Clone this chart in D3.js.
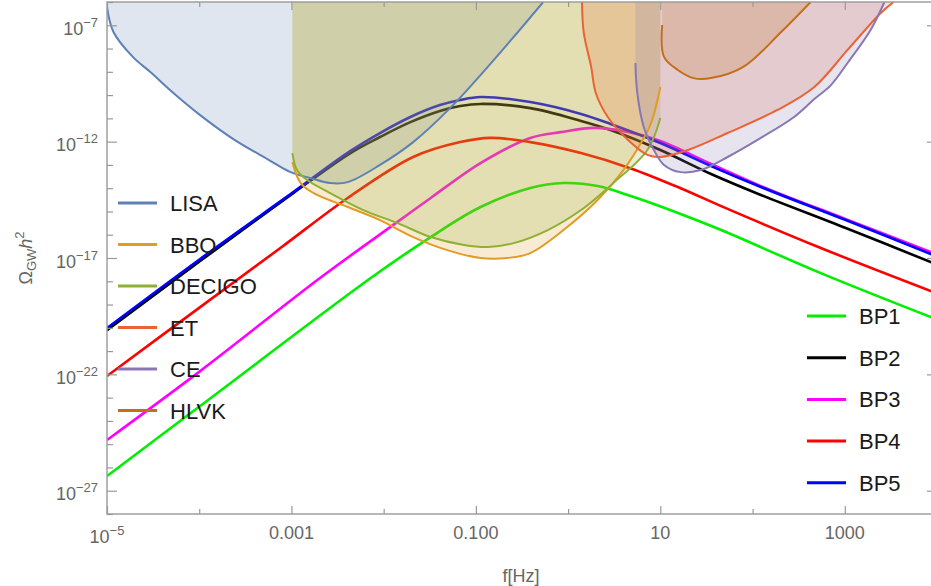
<!DOCTYPE html>
<html>
<head>
<meta charset="utf-8">
<script src="https://cdn.jsdelivr.net/npm/d3@7"></script>
<style>
  body { margin: 0; background: #fff; }
  text { font-family: "Liberation Sans", Arial, sans-serif; }
</style>
</head>
<body>
<svg id="chart" width="931" height="586"></svg>
<script>
// Tick values and labels
const xMajor = [1e-5, 1e-3, 1e-1, 1e1, 1e3];
const xMajorLabels = ['10^\u22125', '0.001', '0.100', '10', '1000'];
const xMinor = [1e-4, 1e-2, 1e0, 1e2, 1e4];
const yMajor = [1e-7, 1e-12, 1e-17, 1e-22, 1e-27];
const yMajorLabels = ['10^\u22127', '10^\u221212', '10^\u221217', '10^\u221222', '10^\u221227'];

// Detector sensitivity curves as [log10 f, log10 Omega h^2]
const lisa = [[-5.00, -6.21], [-4.93, -7.29], [-4.72, -8.36], [-4.53, -9.01], [-4.28, -9.91],
  [-3.99, -10.86], [-3.63, -11.89], [-3.26, -12.75], [-3.01, -13.31], [-2.80, -13.56],
  [-2.58, -13.78], [-2.39, -13.74], [-2.04, -13.00], [-1.68, -12.02], [-1.28, -10.56],
  [-0.95, -9.14], [-0.59, -7.50], [-0.27, -6.00]];
const bbo = [[-2.99, -12.88], [-2.90, -13.78], [-2.76, -14.21], [-2.39, -14.81], [-2.04, -15.37],
  [-1.68, -16.10], [-1.31, -16.66], [-0.95, -17.00], [-0.66, -17.00], [-0.41, -16.79],
  [-0.05, -15.80], [0.32, -14.51], [0.60, -13.22], [0.79, -12.06], [0.90, -11.20], [1.00, -9.65]];
const decigo = [[-2.99, -12.49], [-2.94, -13.22], [-2.83, -13.65], [-2.58, -14.21], [-2.22, -14.94],
  [-1.85, -15.50], [-1.49, -16.10], [-1.13, -16.44], [-0.87, -16.53], [-0.59, -16.36],
  [-0.22, -15.80], [0.14, -14.94], [0.49, -13.78], [0.86, -12.36], [1.00, -10.98]];
const et = [[0.15, -6.00], [0.17, -7.33], [0.25, -8.79], [0.30, -9.91], [0.43, -10.94],
  [0.65, -11.93], [0.86, -12.57], [1.00, -12.66], [1.30, -12.36], [1.73, -11.63],
  [2.27, -10.64], [2.67, -9.65], [3.03, -8.06], [3.39, -6.47], [3.53, -6.00]];
const ce = [[0.73, -8.62], [0.75, -9.91], [0.82, -11.37], [0.93, -12.36], [1.04, -13.00],
  [1.22, -13.31], [1.44, -13.22], [1.73, -12.66], [2.09, -11.84], [2.45, -10.94],
  [2.67, -10.17], [2.85, -9.57], [3.03, -8.62], [3.28, -7.20], [3.43, -6.00]];
const hlvk = [[1.02, -6.99], [1.04, -8.36], [1.19, -8.92], [1.36, -9.27], [1.55, -9.27],
  [1.90, -8.79], [2.31, -7.29], [2.63, -6.00]];

// Benchmark point spectra, same units
const bp1 = [[-5.00, -26.37], [-3.99, -23.36], [-2.14, -17.86], [-1.49, -16.10], [-0.95, -14.81],
  [-0.41, -13.99], [-0.05, -13.78], [0.32, -13.91], [0.68, -14.34], [1.22, -15.11],
  [1.66, -15.80], [2.74, -17.65], [3.96, -19.58]];
const bp2 = [[-5.00, -20.10], [-3.99, -17.13], [-2.98, -14.21], [-2.36, -12.49], [-2.04, -11.80],
  [-1.71, -11.16], [-1.39, -10.68], [-1.17, -10.47], [-0.95, -10.38], [-0.41, -10.56],
  [0.14, -11.11], [0.46, -11.50], [1.00, -12.36], [1.55, -13.39], [2.09, -14.29],
  [3.01, -15.71], [3.96, -17.22]];
const bp3 = [[-5.00, -24.82], [-3.99, -21.86], [-2.69, -17.86], [-1.85, -15.45], [-1.49, -14.42],
  [-0.95, -12.92], [-0.41, -11.84], [-0.08, -11.59], [0.28, -11.41], [0.65, -11.59],
  [1.00, -11.97], [1.55, -12.96], [2.09, -13.91], [3.01, -15.33], [3.96, -16.79]];
const bp4 = [[-5.00, -22.07], [-3.99, -19.11], [-3.12, -16.57], [-2.39, -14.42], [-1.68, -12.66],
  [-1.17, -12.02], [-0.84, -11.84], [-0.41, -12.02], [0.14, -12.49], [0.68, -13.15],
  [1.22, -14.00], [1.66, -14.77], [2.74, -16.57], [3.96, -18.46]];
const bp5 = [[-5.00, -20.01], [-3.99, -17.04], [-2.98, -14.17], [-2.36, -12.40], [-2.04, -11.63],
  [-1.71, -10.94], [-1.39, -10.43], [-1.17, -10.21], [-0.95, -10.08], [-0.41, -10.30],
  [0.14, -10.81], [0.46, -11.24], [1.00, -12.06], [1.55, -13.05], [2.09, -13.95],
  [3.01, -15.37], [3.96, -16.87]];

const sensNames = ['LISA', 'BBO', 'DECIGO', 'ET', 'CE', 'HLVK'];
const sensColors = ['#5E81B5', '#E19C24', '#8FB032', '#EB6235', '#8778B3', '#C56E1A'];
const sensData = [lisa, bbo, decigo, et, ce, hlvk];
const bpNames = ['BP1', 'BP2', 'BP3', 'BP4', 'BP5'];
const bpColors = ['#00ee00', '#000000', '#ff00ff', '#ff0000', '#0000ff'];
const bpData = [bp1, bp2, bp3, bp4, bp5];

// Scales
const x = d3.scaleLog().domain([1e-5, 1e4]).range([107, 937]);
const y = d3.scaleLog().domain([1e-28, 1e-6]).range([514, 2]);

const svg = d3.select('#chart');
const toPoints = arr => arr.map(([lf, lo]) => ({ f: 10 ** lf, o: 10 ** lo }));

svg.append('clipPath').attr('id', 'plot-clip')
  .append('rect')
  .attr('x', x(1e-5)).attr('y', y(1e-6))
  .attr('width', x(1e4) - x(1e-5)).attr('height', y(1e-28) - y(1e-6));

const plot = svg.append('g').attr('clip-path', 'url(#plot-clip)');

const line = d3.line()
  .x(d => x(d.f)).y(d => y(d.o))
  .curve(d3.curveCatmullRom.alpha(0.5));
const area = d3.area()
  .x(d => x(d.f)).y0(y(1e-6)).y1(d => y(d.o))
  .curve(d3.curveCatmullRom.alpha(0.5));

// BP spectra go underneath the detector fills
plot.selectAll('.bp')
  .data(bpData)
  .enter()
  .append('path')
  .attr('class', 'bp')
  .attr('d', d => line(toPoints(d)))
  .attr('fill', 'none')
  .attr('stroke', (d, i) => bpColors[i])
  .attr('stroke-width', 2.6);

plot.selectAll('.fill')
  .data(sensData)
  .enter()
  .append('path')
  .attr('class', 'fill')
  .attr('d', d => area(toPoints(d)))
  .attr('fill', (d, i) => sensColors[i])
  .attr('fill-opacity', 0.2);

plot.selectAll('.sens')
  .data(sensData)
  .enter()
  .append('path')
  .attr('class', 'sens')
  .attr('d', d => line(toPoints(d)))
  .attr('fill', 'none')
  .attr('stroke', (d, i) => sensColors[i])
  .attr('stroke-width', 2);

// Frame and ticks (Mathematica style, ticks inside)
const frameColor = '#999';
function tickAxis(axis, transform, values, size) {
  const g = svg.append('g')
    .attr('transform', transform)
    .call(axis.tickValues(values).tickSize(size).tickFormat(''));
  g.select('.domain').remove();
  g.selectAll('line').attr('stroke', frameColor).attr('stroke-width', 1.2);
}
const yMinor = d3.range(-28, -5).map(e => 10 ** e).filter(v => !yMajor.some(m => Math.abs(Math.log10(m / v)) < 1e-6));

tickAxis(d3.axisBottom(x), `translate(0,${y(1e-28)})`, xMajor, -8);
tickAxis(d3.axisBottom(x), `translate(0,${y(1e-28)})`, xMinor, -5);
tickAxis(d3.axisTop(x), `translate(0,${y(1e-6)})`, xMajor, -8);
tickAxis(d3.axisTop(x), `translate(0,${y(1e-6)})`, xMinor, -5);
tickAxis(d3.axisLeft(y), `translate(${x(1e-5)},0)`, yMajor, -10);
tickAxis(d3.axisLeft(y), `translate(${x(1e-5)},0)`, yMinor, -6);
tickAxis(d3.axisRight(y), `translate(${x(1e4)},0)`, yMajor, -10);
tickAxis(d3.axisRight(y), `translate(${x(1e4)},0)`, yMinor, -6);

svg.append('rect')
  .attr('x', x(1e-5)).attr('y', y(1e-6))
  .attr('width', x(1e4) - x(1e-5)).attr('height', y(1e-28) - y(1e-6))
  .attr('fill', 'none')
  .attr('stroke', frameColor)
  .attr('stroke-width', 1.4);

// Tick labels with optional superscript
const labelColor = '#666';
function addLabel(sel, label) {
  const parts = label.split('^');
  sel.append('tspan').text(parts[0]);
  if (parts[1]) {
    sel.append('tspan').attr('font-size', 13).attr('dy', -8).text(parts[1]);
  }
}

svg.selectAll('.xlabel')
  .data(xMajor)
  .enter()
  .append('text')
  .attr('class', 'xlabel')
  .attr('x', d => x(d))
  .attr('y', (d, i) => xMajorLabels[i].includes('^') ? 543 : 539)
  .attr('text-anchor', 'middle')
  .attr('font-size', 18)
  .attr('fill', labelColor)
  .each(function(d, i) { addLabel(d3.select(this), xMajorLabels[i]); });

svg.selectAll('.ylabel')
  .data(yMajor)
  .enter()
  .append('text')
  .attr('class', 'ylabel')
  .attr('x', 98)
  .attr('y', d => y(d) + 9.5)
  .attr('text-anchor', 'end')
  .attr('font-size', 18)
  .attr('fill', labelColor)
  .each(function(d, i) { addLabel(d3.select(this), yMajorLabels[i]); });

// Axis titles
svg.append('text')
  .attr('x', 521).attr('y', 582)
  .attr('text-anchor', 'middle')
  .attr('font-size', 18)
  .attr('fill', labelColor)
  .text('f[Hz]');

const yTitle = svg.append('text')
  .attr('transform', 'translate(32,258) rotate(-90)')
  .attr('text-anchor', 'middle')
  .attr('font-size', 18)
  .attr('fill', labelColor);
yTitle.append('tspan').text('\u03A9');
yTitle.append('tspan').attr('font-size', 13).attr('dy', 4).text('GW');
yTitle.append('tspan').attr('font-style', 'italic').attr('dy', -4).text('h');
yTitle.append('tspan').attr('font-size', 13).attr('dy', -8).text('2');

// Legends
function legend(names, colors, x0, y0, step) {
  const items = svg.selectAll(null)
    .data(names)
    .enter()
    .append('g')
    .attr('transform', (d, i) => `translate(${x0},${y0 + i * step})`);
  items.append('line')
    .attr('x1', 0).attr('x2', 39)
    .attr('stroke', (d, i) => colors[i])
    .attr('stroke-width', 3);
  items.append('text')
    .attr('x', 52).attr('y', 8)
    .attr('font-size', 22)
    .attr('fill', '#1a1a1a')
    .text(d => d);
}
legend(sensNames, sensColors, 118, 203, 41.5);
legend(bpNames, bpColors, 807, 316, 41.7);
</script>
</body>
</html>
